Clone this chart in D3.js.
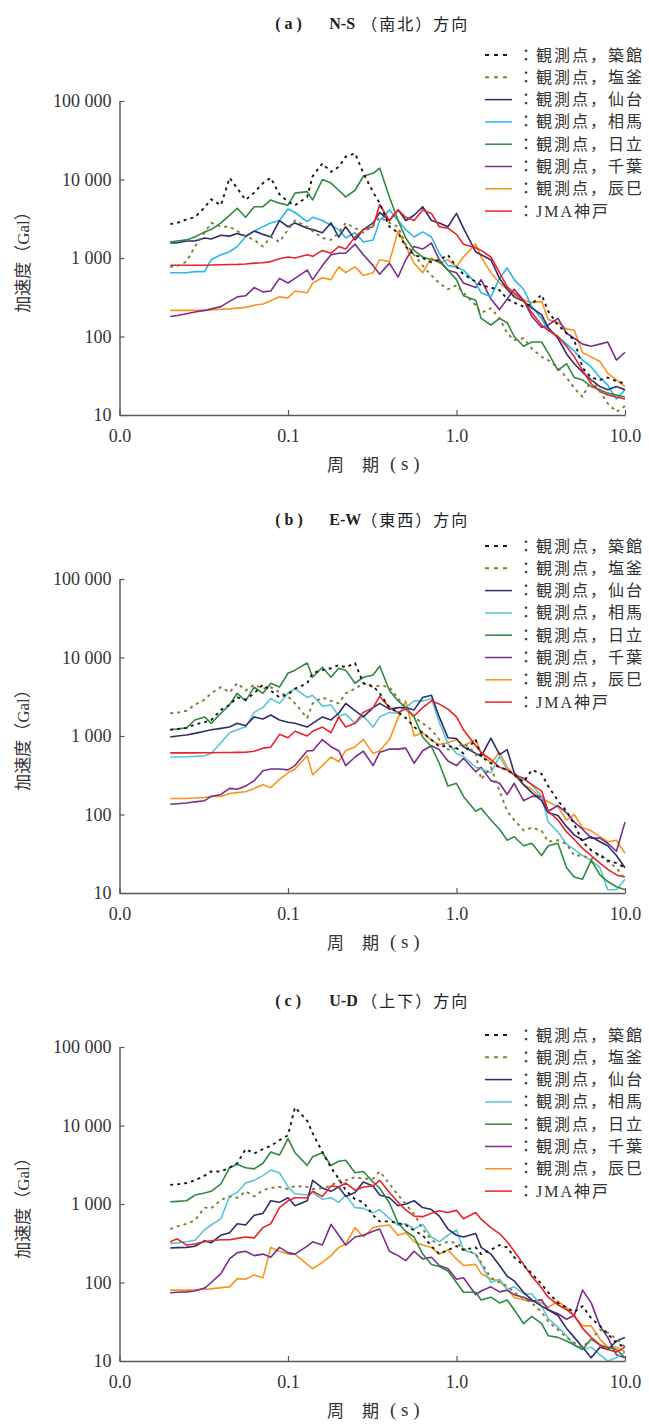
<!DOCTYPE html>
<html>
<head>
<meta charset="utf-8">
<script src="https://cdn.jsdelivr.net/npm/d3@7"></script>
<style>
  body { margin: 0; background: #fff; }
  svg { display: block; }
</style>
</head>
<body>
<div id="chart"></div>
<script>
// periods (s) shared by every spectrum
const periods = [0.020, 0.022, 0.025, 0.028, 0.032, 0.035, 0.040, 0.045, 0.050, 0.056,
  0.063, 0.071, 0.079, 0.089, 0.10, 0.11, 0.13, 0.14, 0.16, 0.18,
  0.20, 0.22, 0.25, 0.28, 0.32, 0.35, 0.40, 0.45, 0.50, 0.56,
  0.63, 0.71, 0.79, 0.89, 1.0, 1.1, 1.3, 1.4, 1.6, 1.8,
  2.0, 2.2, 2.5, 2.8, 3.2, 3.5, 4.0, 4.5, 5.0, 5.6,
  6.3, 7.1, 7.9, 8.9, 10.0];

const stations = ['築館', '塩釜', '仙台', '相馬', '日立', '千葉', '辰巳', 'JMA神戸'];
const yTicks = [10, 100, 1000, 10000, 100000];
const xTicks = [0.01, 0.1, 1, 10];

// (a) N-S
const nsTsukidate = [2700, 2800, 3100, 3300, 4400, 5600, 4700, 10500, 7700, 5500,
  6800, 9000, 10500, 6500, 5200, 4700, 6000, 11000, 16000, 12500,
  14500, 19500, 21500, 12000, 6900, 5000, 2500, 2100, 1400, 1100,
  1000, 880, 950, 1090, 770, 620, 500, 450, 420, 390,
  300, 270, 240, 260, 340, 210, 140, 110, 90, 40,
  30, 28, 30, 27, 25];
const nsShiogama = [770, 790, 900, 1400, 2100, 2800, 2500, 2500, 2200, 1900,
  1700, 1400, 1850, 1600, 2300, 3000, 2500, 2200, 1800, 1700,
  2100, 2800, 2400, 2100, 2600, 3300, 2800, 2500, 1500, 1100,
  800, 600, 480, 400, 450, 360, 250, 200, 230, 170,
  110, 90, 95, 70, 55, 50, 40, 30, 22, 17,
  28, 20, 14, 11, 13];
const nsSendai = [1550, 1560, 1650, 1650, 1800, 1750, 1950, 1900, 2050, 1900,
  2200, 2000, 1850, 3000, 2500, 2800, 2400, 2300, 2100, 2800,
  1850, 2500, 1700, 2300, 2800, 3800, 3000, 4100, 3000, 3500,
  4500, 3000, 2800, 2500, 3700, 2400, 1200, 1100, 950, 550,
  400, 320, 280, 230, 190, 130, 95, 60, 45, 35,
  28, 23, 21, 23, 21];
const nsSoma = [650, 650, 650, 670, 670, 950, 1100, 1200, 1400, 1850,
  2200, 2500, 2800, 3000, 4200, 3800, 2900, 3300, 3000, 2600,
  2300, 1800, 2100, 1600, 1700, 3000, 4100, 3000, 2300, 1850,
  2150, 1850, 1150, 800, 770, 700, 480, 360, 320, 550,
  750, 530, 400, 240, 170, 120, 100, 80, 65, 50,
  41, 30, 24, 16, 21];
const nsHitachi = [1600, 1650, 1700, 1850, 2150, 2300, 2800, 3500, 4300, 3300,
  4500, 4500, 5500, 5000, 4700, 6700, 7000, 5500, 10000, 9000,
  7300, 6000, 7300, 11000, 12000, 14000, 6000, 3000, 1800, 1250,
  1030, 950, 900, 700, 530, 330, 290, 170, 140, 170,
  150, 100, 75, 85, 85, 62, 37, 45, 30, 28,
  23, 21, 19, 18, 17];
const nsChiba = [180, 185, 195, 205, 215, 225, 240, 280, 320, 330,
  420, 370, 380, 550, 480, 550, 700, 530, 800, 1100,
  1150, 1150, 1500, 1100, 800, 620, 860, 570, 950, 1400,
  1300, 1550, 950, 700, 650, 480, 420, 530, 300, 220,
  300, 400, 290, 180, 130, 140, 170, 110, 95, 80,
  75, 80, 85, 50, 63];
const nsTatsumi = [215, 215, 215, 215, 215, 218, 222, 225, 230, 235,
  250, 260, 285, 320, 310, 380, 360, 480, 560, 530,
  770, 650, 770, 600, 650, 950, 900, 2200, 1400, 860,
  650, 1000, 860, 950, 780, 1030, 1500, 1030, 650, 480,
  400, 340, 290, 270, 280, 165, 150, 125, 120, 62,
  55, 48, 34, 28, 23];
const nsKobe = [810, 810, 810, 810, 810, 815, 820, 825, 830, 840,
  860, 870, 900, 980, 1030, 1000, 1100, 1050, 1250, 1150,
  1400, 1300, 1850, 2300, 2500, 4800, 3000, 4100, 3300, 3000,
  4100, 3700, 2500, 2400, 2000, 1500, 1350, 1250, 1030, 650,
  430, 360, 290, 200, 140, 120, 100, 75, 55, 37,
  25, 20, 18, 17, 16];

// (b) E-W
const ewTsukidate = [1200, 1230, 1270, 1400, 1500, 1600, 2150, 2500, 3100, 2900,
  3500, 4500, 3800, 3100, 3400, 4000, 4700, 6300, 6900, 7300,
  8000, 7500, 8500, 4700, 4300, 3500, 2300, 2000, 1700, 1300,
  1100, 900, 730, 750, 700, 600, 900, 550, 450, 400,
  370, 320, 260, 370, 330, 230, 150, 110, 75, 45,
  35, 30, 26, 24, 21];
const ewShiogama = [1950, 1980, 2100, 2500, 2900, 3500, 4200, 3600, 4700, 3800,
  4500, 4000, 4200, 3600, 3200, 2600, 1700, 2600, 3100, 2800,
  2600, 3500, 4000, 4700, 4200, 4400, 4200, 3000, 2300, 1750,
  1450, 1200, 900, 670, 700, 820, 600, 280, 400, 200,
  110, 85, 63, 68, 62, 45, 47, 42, 30, 30,
  27, 32, 25, 21, 15];
const ewSendai = [970, 1000, 1030, 1080, 1150, 1200, 1250, 1300, 1450, 1350,
  1750, 1650, 1850, 1600, 1500, 1450, 1300, 1450, 1750, 1600,
  1950, 2600, 2100, 1750, 2300, 2600, 2200, 2300, 2300, 2150,
  3100, 3300, 1750, 950, 930, 730, 600, 550, 940, 580,
  670, 340, 240, 190, 150, 105, 97, 70, 55, 47,
  52, 45, 40, 30, 21];
const ewSoma = [540, 540, 545, 550, 560, 600, 820, 1100, 1200, 1300,
  2000, 2300, 3000, 2600, 3500, 4000, 3100, 3300, 2400, 2500,
  1800, 1900, 1450, 1800, 1300, 1750, 2000, 1950, 2300, 2800,
  2800, 3000, 1500, 800, 600, 550, 400, 380, 340, 550,
  370, 330, 280, 240, 170, 80, 60, 42, 36, 30,
  26, 21, 11, 11, 15];
const ewHitachi = [1200, 1230, 1270, 1600, 1750, 1450, 1950, 2500, 3500, 2800,
  4200, 3500, 4700, 4200, 6300, 6900, 8500, 5600, 7500, 5600,
  7300, 6900, 4700, 5600, 6000, 7800, 3800, 2800, 2300, 1750,
  970, 730, 450, 230, 250, 170, 110, 120, 85, 65,
  47, 52, 40, 43, 30, 40, 43, 21, 16, 15,
  26, 17, 14, 12, 11];
const ewChiba = [135, 137, 140, 145, 150, 170, 180, 215, 210, 230,
  270, 360, 380, 380, 370, 420, 650, 650, 900, 730,
  650, 420, 540, 640, 420, 620, 680, 680, 700, 450,
  650, 750, 670, 480, 420, 520, 350, 400, 270, 250,
  180, 250, 150, 170, 170, 110, 130, 105, 80, 65,
  50, 50, 43, 34, 80];
const ewTatsumi = [160, 160, 160, 162, 165, 170, 170, 185, 190, 195,
  215, 240, 220, 280, 340, 380, 560, 320, 420, 540,
  470, 650, 730, 900, 600, 650, 900, 1700, 2800, 1000,
  1100, 880, 780, 820, 900, 750, 900, 600, 450, 620,
  400, 320, 240, 210, 160, 145, 125, 85, 100, 68,
  62, 52, 45, 47, 32];
const ewKobe = [610, 610, 610, 610, 612, 612, 615, 615, 618, 620,
  640, 700, 720, 1050, 950, 1150, 1000, 1150, 1300, 1100,
  1750, 1300, 1450, 2000, 2300, 3200, 2300, 2000, 2200, 1800,
  2300, 2800, 2550, 2200, 1750, 1200, 750, 620, 500, 400,
  370, 320, 290, 240, 200, 110, 85, 60, 48, 37,
  30, 24, 20, 17, 16];

// (c) U-D
const udTsukidate = [1750, 1780, 1850, 2000, 2300, 2600, 2600, 2900, 3300, 5000,
  4400, 5000, 5500, 6500, 7500, 17000, 11500, 8000, 4600, 2900,
  2100, 1500, 1150, 1050, 720, 600, 600, 570, 540, 460,
  400, 290, 230, 260, 290, 260, 280, 230, 260, 300,
  280, 210, 165, 130, 95, 75, 55, 48, 42, 50,
  35, 28, 22, 17, 15];
const udShiogama = [480, 520, 560, 620, 900, 880, 1130, 1250, 1200, 1450,
  1250, 1500, 1600, 1650, 1550, 1700, 1650, 1550, 1600, 1700,
  2000, 2000, 2200, 2100, 2100, 2600, 1800, 1300, 1000, 750,
  480, 350, 300, 330, 320, 270, 230, 180, 115, 100,
  90, 75, 62, 55, 42, 32, 25, 20, 17, 15,
  19, 25, 23, 19, 15];
const udSendai = [275, 278, 280, 290, 340, 320, 400, 430, 560, 540,
  720, 760, 1100, 1050, 1200, 950, 1100, 2000, 1600, 1450,
  1650, 1250, 1400, 1900, 1700, 1300, 1200, 950, 1000, 1100,
  900, 850, 700, 480, 400, 380, 420, 280, 230, 165,
  120, 105, 75, 60, 50, 45, 38, 26, 20, 15,
  11, 15, 14, 18, 20];
const udSoma = [315, 320, 330, 345, 470, 540, 650, 1250, 1400, 1850,
  2000, 2300, 2700, 2500, 1650, 1350, 1300, 1400, 1150, 1200,
  1050, 1300, 900, 880, 770, 850, 650, 540, 560, 480,
  550, 380, 330, 400, 470, 260, 230, 170, 100, 110,
  82, 88, 72, 72, 50, 35, 27, 21, 16, 14,
  15, 12, 10, 11, 13];
const udHitachi = [1070, 1080, 1100, 1300, 1380, 1450, 1800, 2900, 3200, 2900,
  2800, 3300, 4600, 4200, 6800, 4500, 3100, 4000, 4500, 3100,
  3500, 3600, 2500, 2600, 1900, 1600, 1030, 570, 450, 380,
  230, 170, 160, 140, 100, 75, 75, 60, 65, 55,
  60, 45, 30, 37, 30, 21, 20, 18, 16, 14,
  19, 16, 15, 14, 11];
const udChiba = [74, 75, 76, 78, 85, 100, 130, 200, 240, 250,
  220, 230, 210, 280, 240, 230, 290, 330, 300, 550,
  400, 300, 380, 400, 450, 480, 250, 220, 190, 250,
  200, 210, 165, 150, 110, 115, 70, 78, 88, 76,
  80, 70, 65, 58, 60, 45, 40, 34, 38, 80,
  55, 28, 20, 12, 11];
const udTatsumi = [80, 80, 80, 81, 82, 83, 86, 88, 112, 110,
  125, 115, 280, 250, 230, 230, 170, 150, 180, 220,
  280, 310, 500, 380, 500, 520, 540, 400, 430, 330,
  300, 280, 230, 260, 200, 165, 170, 130, 110, 105,
  82, 65, 60, 58, 55, 48, 58, 48, 37, 28,
  28, 19, 15, 15, 13];
const udKobe = [330, 360, 300, 310, 330, 340, 350, 350, 365, 380,
  370, 500, 560, 900, 1100, 1200, 1200, 1450, 1250, 1700,
  1650, 1850, 1500, 1650, 1700, 2000, 1400, 1050, 840, 700,
  690, 760, 820, 780, 830, 650, 780, 640, 500, 420,
  330, 250, 170, 120, 85, 65, 52, 45, 38, 26,
  20, 16, 14, 13, 15];

const panels = [
  {label: '( a )', dir: 'N-S', jp: '（南北）方向', top: 101, titleY: 23, legendY: 55, soma: '#2bb8e8',
   series: [nsTsukidate, nsShiogama, nsSendai, nsSoma, nsHitachi, nsChiba, nsTatsumi, nsKobe]},
  {label: '( b )', dir: 'E-W', jp: '（東西）方向', top: 579, titleY: 519, legendY: 546, soma: '#5cc6d4',
   series: [ewTsukidate, ewShiogama, ewSendai, ewSoma, ewHitachi, ewChiba, ewTatsumi, ewKobe]},
  {label: '( c )', dir: 'U-D', jp: '（上下）方向', top: 1047, titleY: 1000, legendY: 1035, soma: '#5cc6d4',
   series: [udTsukidate, udShiogama, udSendai, udSoma, udHitachi, udChiba, udTatsumi, udKobe]}
];

const colors = ['#1a1a1a', '#807b3b', '#2e2e6c', null, '#2f8a40', '#7a2d8b', '#f7941d', '#ec2227'];
const dashed = [true, true, false, false, false, false, false, false];
const drawOrder = [6, 5, 3, 2, 4, 7, 1, 0];

const serif = '"Liberation Serif", "Noto Sans CJK JP", serif';
const cjk = '"Noto Sans CJK JP", sans-serif';
const axisColor = '#5a5a5a';

const svg = d3.select('#chart').append('svg')
  .attr('width', 649)
  .attr('height', 1428);
svg.append('rect').attr('width', 649).attr('height', 1428).attr('fill', '#fff');

const x = d3.scaleLog().domain([0.01, 10]).range([119.5, 625]);
const fmtY = d => d3.format(',')(d).replace(/,/g, ' ');

panels.forEach(p => {
  const g = svg.append('g');
  const y = d3.scaleLog().domain([10, 100000]).range([p.top + 314, p.top]);
  const cx = (x.range()[0] + x.range()[1]) / 2;

  // title
  const title = g.append('text')
    .attr('y', p.titleY)
    .attr('dominant-baseline', 'central')
    .attr('fill', '#222')
    .style('font-size', '16px');
  title.append('tspan').attr('x', cx - 97).style('font-family', serif).style('font-weight', 'bold').text(p.label);
  title.append('tspan').attr('x', cx - 43).style('font-family', serif).style('font-weight', 'bold').text(p.dir);
  title.append('tspan').attr('x', cx - 11).style('font-family', cjk).style('letter-spacing', '2px').text(p.jp);

  // lines
  const line = d3.line()
    .x((d, i) => x(periods[i]))
    .y(d => y(d));
  drawOrder.forEach(k => {
    g.append('path')
      .datum(p.series[k])
      .attr('fill', 'none')
      .attr('stroke', k === 3 ? p.soma : colors[k])
      .attr('stroke-width', dashed[k] ? 1.9 : 1.6)
      .attr('stroke-dasharray', dashed[k] ? '3,4' : null)
      .attr('stroke-linejoin', 'round')
      .attr('d', line);
  });

  // y axis
  const yAxis = g.append('g')
    .attr('transform', `translate(${x.range()[0]},0)`)
    .call(d3.axisLeft(y).tickValues(yTicks).tickFormat(fmtY).tickSizeInner(-5).tickSizeOuter(0).tickPadding(8));
  // x axis
  const xAxis = g.append('g')
    .attr('transform', `translate(0,${y(10)})`)
    .call(d3.axisBottom(x).tickValues(xTicks).tickFormat(d => d.toFixed(1)).tickSizeInner(-5).tickSizeOuter(0).tickPadding(14));
  [yAxis, xAxis].forEach(a => {
    a.select('.domain').attr('stroke', axisColor).attr('stroke-width', 1.5);
    a.selectAll('.tick line').attr('stroke', axisColor).attr('stroke-width', 1.2);
    a.selectAll('.tick text').attr('fill', '#333').style('font-family', serif).style('font-size', '18px');
  });

  // x axis title
  const xt = g.append('text')
    .attr('y', y(10) + 48)
    .attr('dominant-baseline', 'central')
    .attr('fill', '#333')
    .style('font-size', '17px');
  xt.append('tspan').attr('x', 327).style('font-family', cjk).text('周');
  xt.append('tspan').attr('x', 362).style('font-family', cjk).text('期');
  xt.append('tspan').attr('x', 390).style('font-family', serif).style('font-size', '19px').text('( s )');

  // y axis title
  g.append('text')
    .attr('transform', `translate(23,${(y(10) + y(100000)) / 2}) rotate(-90)`)
    .attr('text-anchor', 'middle')
    .attr('dominant-baseline', 'central')
    .attr('fill', '#333')
    .style('font-family', serif)
    .style('font-size', '17px')
    .text('加速度（Gal）');

  // legend
  const lg = g.append('g').attr('transform', `translate(485,${p.legendY})`);
  stations.forEach((s, i) => {
    const row = lg.append('g').attr('transform', `translate(0,${i * 22.3})`);
    row.append('line')
      .attr('x1', 0).attr('x2', 27)
      .attr('stroke', i === 3 ? p.soma : colors[i])
      .attr('stroke-width', dashed[i] ? 2 : 1.5)
      .attr('stroke-dasharray', dashed[i] ? '4,5' : null);
    row.append('text')
      .attr('x', 33)
      .attr('dominant-baseline', 'central')
      .attr('fill', '#333')
      .style('font-family', serif)
      .style('font-size', '16px')
      .style('letter-spacing', '2px')
      .text(i < 7 ? '：観測点，' + s : '：' + s);
  });
});
</script>
</body>
</html>
